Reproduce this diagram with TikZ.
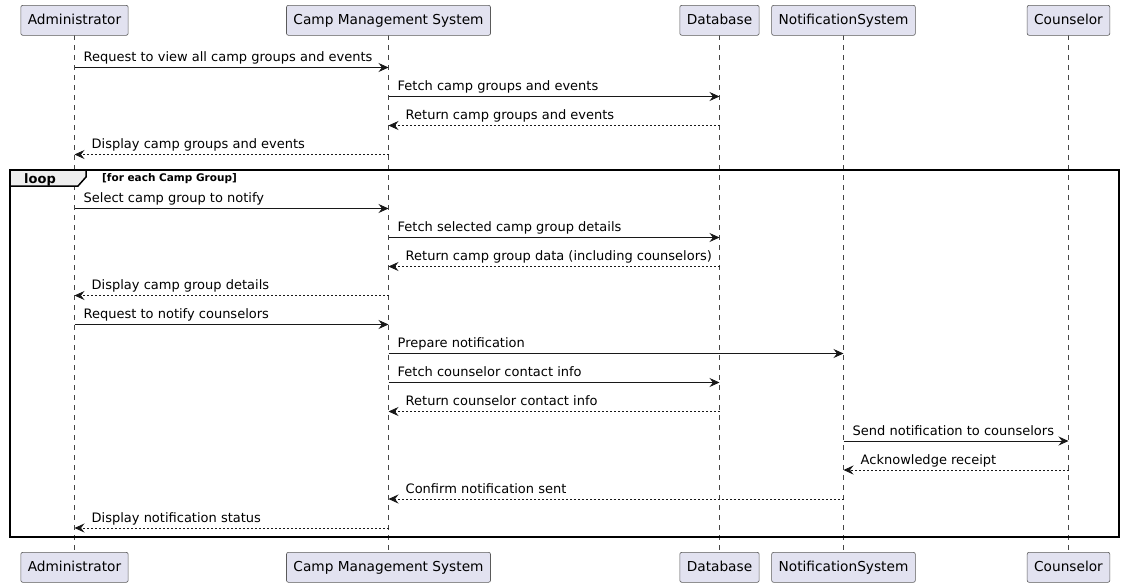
\documentclass[tikz,border=0pt]{standalone}
\usepackage{fontspec}
\setmainfont{DejaVu Sans}
\usetikzlibrary{arrows.meta}
\definecolor{partfill}{HTML}{E2E2F0}
\definecolor{partline}{HTML}{181818}
\definecolor{boxline}{HTML}{5A5A5A}
\definecolor{tabfill}{HTML}{EEEEEE}
\tikzset{
  part/.style={draw=boxline, fill=partfill, rounded corners=2pt, line width=0.6pt,
    minimum height=30pt, text height=10.5pt, text depth=3pt, inner xsep=7pt,
    font=\fontsize{13.7}{15}\selectfont, anchor=north},
  life/.style={draw=partline!80, line width=0.5pt, dash pattern=on 5pt off 5pt},
  msg/.style={draw=partline, line width=0.8pt, -{Stealth[length=10pt,width=9pt,inset=3.5pt]}},
  ret/.style={msg, dash pattern=on 2pt off 2pt},
  lbl/.style={font=\fontsize{13}{15}\selectfont, inner sep=0pt, anchor=base west},
  frame/.style={draw=black, line width=1.5pt},
}
\newcommand{\msgR}[5]{% from to y label style
  \draw[#5] (#1 |- 0,#3) -- (#2 |- 0,#3);
  \path (#1 |- 0,#3) ++(9,-6) node[lbl] {#4};}
\newcommand{\msgL}[5]{% from to y label style (leftward)
  \draw[#5] (#1 |- 0,#3) -- (#2 |- 0,#3);
  \path (#2 |- 0,#3) ++(17,-6) node[lbl] {#4};}
\begin{document}
\begin{tikzpicture}[x=1pt,y=-1pt]
\useasboundingbox (0,0) rectangle (1125,587);
% lifeline x positions
\coordinate (A) at (74.5,0);
\coordinate (C) at (388.5,0);
\coordinate (D) at (719.5,0);
\coordinate (N) at (843.5,0);
\coordinate (K) at (1068.5,0);
% lifelines
\foreach \p in {A,C,D,N,K} \draw[life] (\p |- 0,35) -- (\p |- 0,552);
% participants top
\node[part] (aT) at (A |- 0,5) {Administrator};
\node[part] (cT) at (C |- 0,5) {Camp Management System};
\node[part] (dT) at (D |- 0,5) {Database};
\node[part] (nT) at (N |- 0,5) {NotificationSystem};
\node[part] (kT) at (K |- 0,5) {Counselor};
% participants bottom
\node[part] (aB) at (A |- 0,552) {Administrator};
\node[part] (cB) at (C |- 0,552) {Camp Management System};
\node[part] (dB) at (D |- 0,552) {Database};
\node[part] (nB) at (N |- 0,552) {NotificationSystem};
\node[part] (kB) at (K |- 0,552) {Counselor};
% loop frame
\draw[frame] (10,170) rectangle (1119,537);
\draw[frame, fill=tabfill] (10,170) -- (86,170) -- (86,177) -- (78,186) -- (10,186) -- cycle;
\node[font=\bfseries\fontsize{13}{15}\selectfont, inner sep=0pt, anchor=base] (looplbl) at (40,183) {loop};
\node[font=\bfseries\fontsize{10.5}{12}\selectfont, inner sep=0pt, anchor=base west] (loopcond) at (102,181) {[for each Camp Group]};
% messages
\msgR{aT}{cT}{67.5}{Request to view all camp groups and events}{msg}
\msgR{cT}{dT}{96.5}{Fetch camp groups and events}{msg}
\msgL{dT}{cT}{125.5}{Return camp groups and events}{ret}
\msgL{cT}{aT}{154.5}{Display camp groups and events}{ret}
\msgR{aT}{cT}{208.5}{Select camp group to notify}{msg}
\msgR{cT}{dT}{237.5}{Fetch selected camp group details}{msg}
\msgL{dT}{cT}{266.5}{Return camp group data (including counselors)}{ret}
\msgL{cT}{aT}{295.5}{Display camp group details}{ret}
\msgR{aT}{cT}{324.5}{Request to notify counselors}{msg}
\msgR{cT}{nT}{353.5}{Prepare notification}{msg}
\msgR{cT}{dT}{382.5}{Fetch counselor contact info}{msg}
\msgL{dT}{cT}{411.5}{Return counselor contact info}{ret}
\msgR{nT}{kT}{441}{Send notification to counselors}{msg}
\msgL{kT}{nT}{470}{Acknowledge receipt}{ret}
\msgL{nT}{cT}{499}{Confirm notification sent}{ret}
\msgL{cT}{aT}{528}{Display notification status}{ret}
\end{tikzpicture}
\end{document}
